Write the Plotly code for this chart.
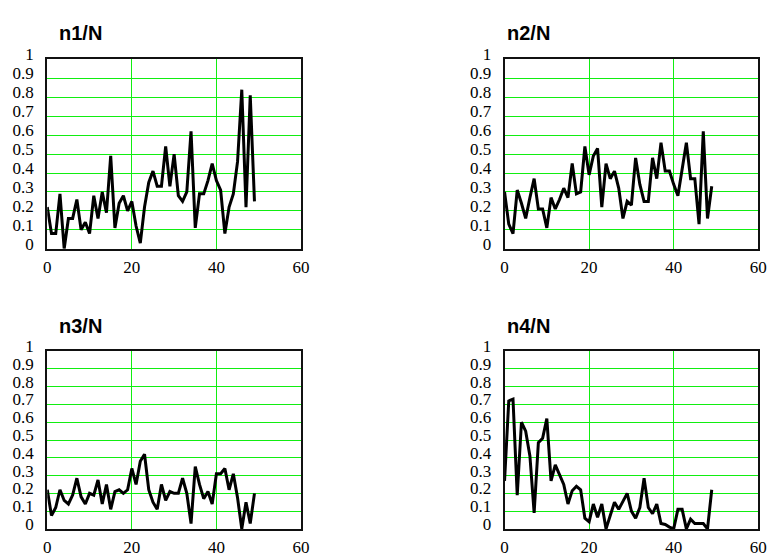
import plotly.graph_objects as go

x_vals = list(range(50))

n1 = [0.22,0.08,0.08,0.29,0.0,0.16,0.16,0.26,0.10,0.14,0.08,0.28,0.16,0.30,0.19,0.49,0.11,0.24,0.28,0.20,
      0.25,0.12,0.03,0.22,0.35,0.41,0.33,0.33,0.54,0.33,0.50,0.28,0.25,0.30,0.62,0.11,0.29,0.29,0.36,0.45,
      0.36,0.31,0.08,0.22,0.29,0.46,0.84,0.22,0.81,0.25]
n2 = [0.30,0.13,0.08,0.31,0.24,0.16,0.27,0.37,0.21,0.21,0.11,0.27,0.21,0.26,0.32,0.27,0.45,0.29,0.30,0.54,
      0.39,0.49,0.53,0.22,0.45,0.37,0.41,0.32,0.16,0.25,0.23,0.48,0.34,0.25,0.25,0.48,0.37,0.56,0.41,0.41,
      0.34,0.28,0.42,0.56,0.37,0.37,0.13,0.62,0.16,0.33]
n3 = [0.22,0.075,0.12,0.22,0.16,0.14,0.19,0.285,0.18,0.14,0.20,0.19,0.275,0.14,0.25,0.11,0.21,0.22,0.20,0.22,
      0.34,0.25,0.38,0.42,0.22,0.15,0.11,0.25,0.16,0.21,0.20,0.20,0.285,0.20,0.03,0.35,0.25,0.17,0.21,0.14,
      0.31,0.31,0.34,0.22,0.31,0.175,0.0,0.15,0.03,0.20]
n4 = [0.27,0.72,0.73,0.19,0.60,0.55,0.41,0.09,0.485,0.51,0.62,0.27,0.36,0.30,0.25,0.14,0.215,0.24,0.22,0.06,
      0.04,0.14,0.065,0.14,0.0,0.075,0.15,0.11,0.155,0.20,0.10,0.06,0.12,0.285,0.12,0.085,0.14,0.03,0.025,0.01,
      0.0,0.11,0.11,0.0,0.055,0.03,0.03,0.03,0.0,0.22]

titles = ["n1/N", "n2/N", "n3/N", "n4/N"]
series = [n1, n2, n3, n4]

x_ticks = [0, 20, 40, 60]
y_ticks = [0, 0.1, 0.2, 0.3, 0.4, 0.5, 0.6, 0.7, 0.8, 0.9, 1]
y_tick_text = ["0", "0.1", "0.2", "0.3", "0.4", "0.5", "0.6", "0.7", "0.8", "0.9", "1"]

W, H = 782, 559
xdoms = [[44 / W, 302 / W], [509 / W, 767 / W]]
ydoms = [[1 - 243 / H, 1 - 47 / H], [1 - 533 / H, 1 - 349 / H]]

fig = go.Figure()
layout = dict(
    width=W, height=H, margin=dict(l=0, r=0, t=0, b=0),
    paper_bgcolor="white", plot_bgcolor="white", showlegend=False,
    annotations=[],
)
tick_font = dict(family="Liberation Serif, Times New Roman, serif", size=17, color="black")

for k in range(4):
    row, col = divmod(k, 2)
    xa = "xaxis" if k == 0 else f"xaxis{k+1}"
    ya = "yaxis" if k == 0 else f"yaxis{k+1}"
    xr = "x" if k == 0 else f"x{k+1}"
    yr = "y" if k == 0 else f"y{k+1}"
    fig.add_trace(go.Scatter(x=x_vals, y=series[k], mode="lines",
                             line=dict(color="black", width=3),
                             xaxis=xr, yaxis=yr))
    layout[xa] = dict(domain=xdoms[col], anchor=yr, range=[0, 60],
                      tickvals=x_ticks, ticktext=[str(v) for v in x_ticks],
                      showgrid=True, gridcolor="#11ee11", gridwidth=1,
                      showline=True, linecolor="#111111", linewidth=2, mirror=True,
                      zeroline=False, ticks="", tickfont=tick_font, ticklabelstandoff=2)
    layout[ya] = dict(domain=ydoms[row], anchor=xr, range=[0, 1],
                      tickvals=y_ticks, ticktext=y_tick_text,
                      showgrid=True, gridcolor="#11ee11", gridwidth=1,
                      showline=True, linecolor="#111111", linewidth=2, mirror=True,
                      zeroline=False, ticks="", tickfont=tick_font, ticklabelstandoff=8,
                      ticklabelshift=-5)
    tx = [54, 509][col] / W
    ty = 1 - [20, 323][row] / H
    layout["annotations"].append(dict(
        text=f"<b>{titles[k]}</b>", x=tx, y=ty, xref="paper", yref="paper",
        xanchor="left", yanchor="middle", showarrow=False,
        font=dict(family="Liberation Sans, Arial, sans-serif", size=20, color="black")))

fig.update_layout(**layout)
fig.write_html("out.html")
